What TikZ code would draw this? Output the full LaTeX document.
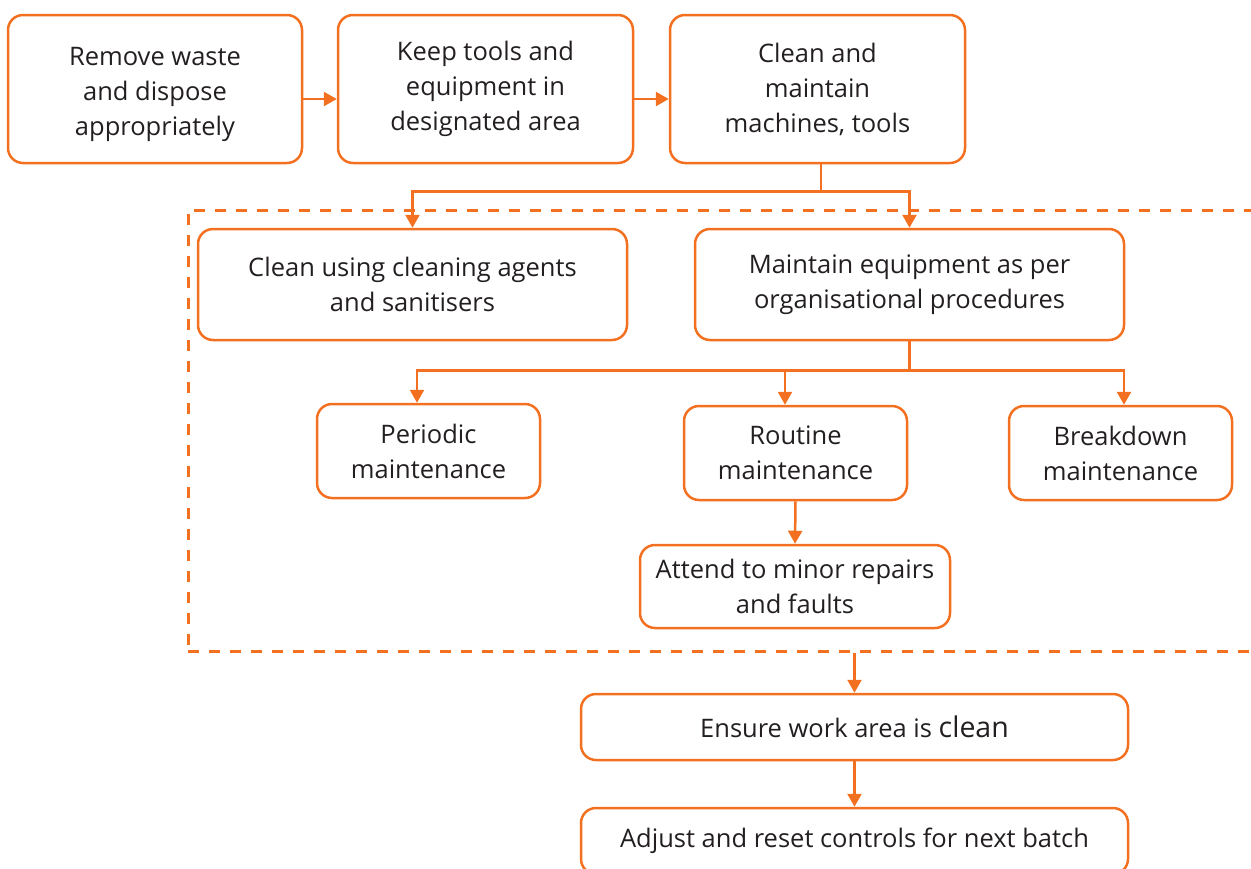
\documentclass[tikz,border=0pt]{standalone}
\usepackage{fontspec}
\setmainfont{Open Sans}
\usetikzlibrary{arrows.meta,calc}
\definecolor{accent}{HTML}{F37021}
\definecolor{ink}{HTML}{231F20}
\tikzset{
  stepbox/.style={draw=accent, line width=2.5pt, rounded corners=15pt,
    align=center, text=ink, inner sep=0pt,
    font=\fontsize{25.5}{35}\selectfont},
  frame/.style={draw=accent, line width=3pt, dash pattern=on 11pt off 10pt,
    inner sep=0pt},
  arr/.style={draw=accent, line width=2.5pt,
    -{Triangle[length=13pt,width=14pt]}},
  link/.style={draw=accent, line width=2.5pt}
}
\begin{document}
\begin{tikzpicture}[x=1pt,y=-1pt]
\useasboundingbox (0,0) rectangle (1251,868);
\clip (0,0) rectangle (1251,868);

% dashed group around the cleaning and maintenance steps
\node[frame, minimum width=1090pt, minimum height=441pt] (grp) at (733,430.5) {};

% top row
\node[stepbox, minimum width=294pt, minimum height=148pt] (b1) at (155,89)
  {\raisebox{-4pt}[\height][\depth]{\begin{tabular}{@{}c@{}}Remove waste\\and dispose\\appropriately\end{tabular}}};
\node[stepbox, minimum width=295pt, minimum height=148pt] (b2) at (485.5,89)
  {Keep tools and\\equipment in\\designated area};
\node[stepbox, minimum width=295pt, minimum height=148pt] (b3) at (817.5,89)
  {Clean and\\maintain\\machines, tools};

% second row
\node[stepbox, minimum width=429pt, minimum height=111pt] (b4) at (412.5,284.5)
  {Clean using cleaning agents\\and sanitisers};
\node[stepbox, minimum width=429pt, minimum height=111pt] (b5) at (909.5,284.5)
  {Maintain equipment as per\\organisational procedures};

% maintenance types
\node[stepbox, minimum width=223pt, minimum height=94pt] (b6) at (428.5,451)
  {Periodic\\maintenance};
\node[stepbox, minimum width=223pt, minimum height=94pt] (b7) at (795.5,453)
  {Routine\\maintenance};
\node[stepbox, minimum width=223pt, minimum height=94pt] (b8) at (1120.5,453)
  {Breakdown\\maintenance};
\node[stepbox, minimum width=310pt, minimum height=83pt] (b9) at (795,586.5)
  {Attend to minor repairs\\and faults};

% closing steps
\node[stepbox, minimum width=547pt, minimum height=66pt] (b10) at (854.5,727)
  {Ensure work area is {\fontsize{28.5}{35}\selectfont clean}};
\node[stepbox, minimum width=547pt, minimum height=66pt] (b11) at (854.5,841)
  {Adjust and reset controls for next batch};

% connectors along the top row
\draw[arr] ([yshift=-10pt]b1.east) -- ([yshift=-10pt]b2.west);
\draw[arr] ([yshift=-10pt]b2.east) -- ([yshift=-10pt]b3.west);

% split into cleaning and maintenance
\draw[link] ([xshift=3.5pt]b3.south) -- ++(0,27) coordinate (j1);
\draw[arr] (j1) -| (b4.north);
\draw[arr] (j1) -| (b5.north);

% split into maintenance types
\draw[link] (b5.south) -- ++(0,29) coordinate (j2);
\draw[arr] (j2) -| ([xshift=-11.5pt]b6.north);
\draw[arr] (j2) -| ([xshift=-10.5pt]b7.north);
\draw[arr] (j2) -| ([xshift=3.5pt]b8.north);

\draw[arr] (b7.south) -- (b9.north);

% out of the group and down
\draw[arr] (grp.south -| b10.north) -- (b10.north);
\draw[arr] (b10.south) -- (b11.north);
\end{tikzpicture}
\end{document}
